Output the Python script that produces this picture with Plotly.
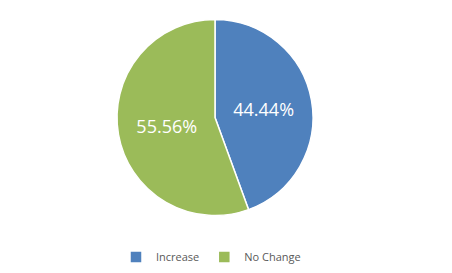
import plotly.graph_objects as go

categories = ["Increase", "No Change"]
values = [4, 5]
colors = ["#4F81BD", "#9BBB59"]

W, H = 452, 273

fig = go.Figure(go.Pie(
    labels=categories,
    values=values,
    sort=False,
    direction="clockwise",
    rotation=0,
    marker=dict(colors=colors, line=dict(color="white", width=1.5)),
    textinfo="percent",
    texttemplate="%{percent:.2%}",
    textposition="inside",
    insidetextfont=dict(color="white", size=18, family="Open Sans"),
    domain=dict(x=[117 / W, 313 / W], y=[1 - 216 / H, 1 - 19 / H]),
    hoverinfo="skip",
))

fig.update_layout(
    width=W, height=H,
    margin=dict(l=0, r=0, t=0, b=0),
    paper_bgcolor="white",
    plot_bgcolor="white",
    showlegend=True,
    legend=dict(
        orientation="h",
        x=211 / W, xanchor="center",
        y=1 - 257 / H, yanchor="middle",
        font=dict(size=11, color="#595959", family="Open Sans"),
        itemwidth=30,
    ),
    uniformtext=dict(minsize=18, mode="show"),
)

fig.write_html("out.html")
